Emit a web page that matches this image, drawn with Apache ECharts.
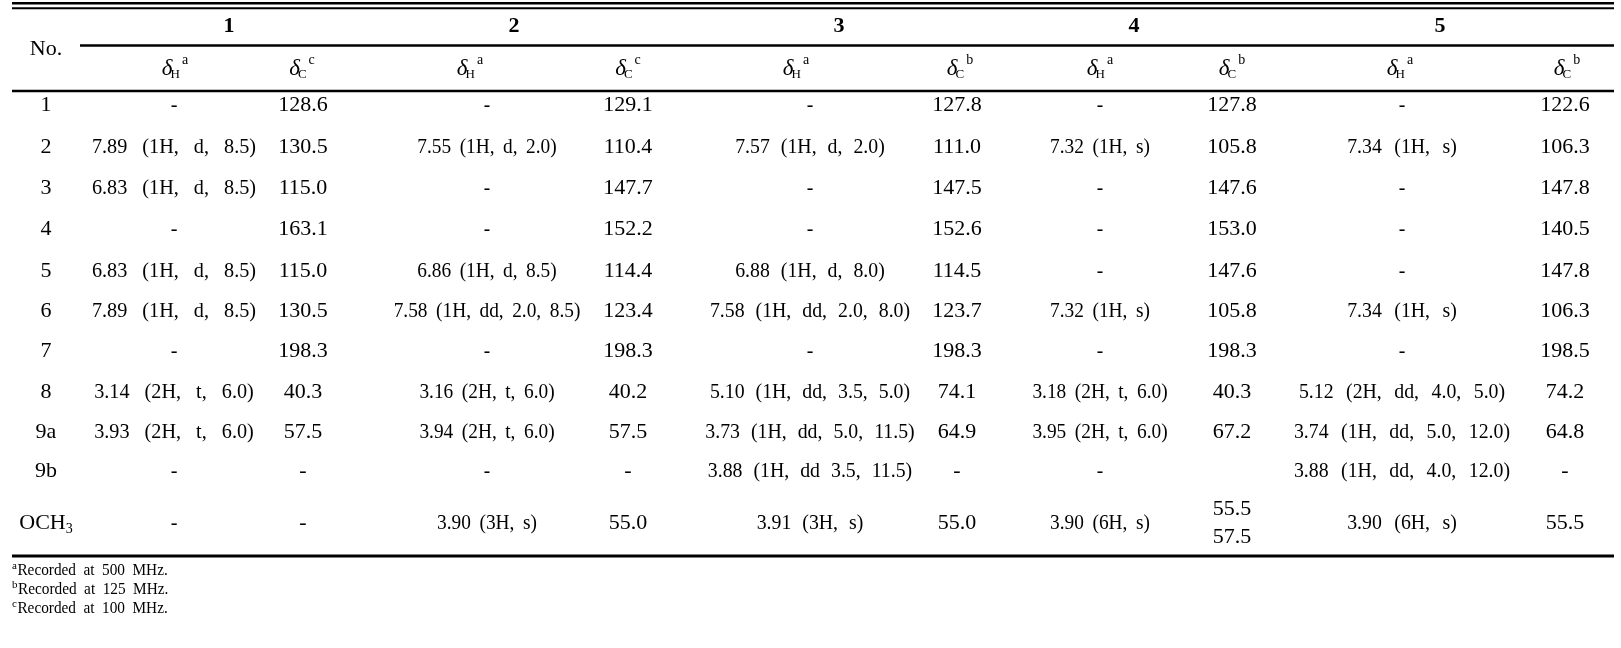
<!DOCTYPE html>
<html>
<head>
<meta charset="utf-8">
<script src="https://cdn.jsdelivr.net/npm/echarts@6/dist/echarts.min.js"></script>
<style>
html,body{margin:0;padding:0;background:#fff;}
#chart{width:1621px;height:648px;}
</style>
</head>
<body>
<div id="chart"></div>
<script>
// ---------------- data ----------------
const compounds = ['1', '2', '3', '4', '5'];
const rowLabels = ['1', '2', '3', '4', '5', '6', '7', '8', '9a', '9b', 'OCH3'];
const colHeads = [['H', 'a'], ['C', 'c'], ['H', 'a'], ['C', 'c'], ['H', 'a'], ['C', 'b'], ['H', 'a'], ['C', 'b'], ['H', 'a'], ['C', 'b']];
const dH1 = ['-', '7.89 (1H, d, 8.5)', '6.83 (1H, d, 8.5)', '-', '6.83 (1H, d, 8.5)', '7.89 (1H, d, 8.5)', '-', '3.14 (2H, t, 6.0)', '3.93 (2H, t, 6.0)', '-', '-'];
const dC1 = ['128.6', '130.5', '115.0', '163.1', '115.0', '130.5', '198.3', '40.3', '57.5', '-', '-'];
const dH2 = ['-', '7.55 (1H, d, 2.0)', '-', '-', '6.86 (1H, d, 8.5)', '7.58 (1H, dd, 2.0, 8.5)', '-', '3.16 (2H, t, 6.0)', '3.94 (2H, t, 6.0)', '-', '3.90 (3H, s)'];
const dC2 = ['129.1', '110.4', '147.7', '152.2', '114.4', '123.4', '198.3', '40.2', '57.5', '-', '55.0'];
const dH3 = ['-', '7.57 (1H, d, 2.0)', '-', '-', '6.88 (1H, d, 8.0)', '7.58 (1H, dd, 2.0, 8.0)', '-', '5.10 (1H, dd, 3.5, 5.0)', '3.73 (1H, dd, 5.0, 11.5)', '3.88 (1H, dd 3.5, 11.5)', '3.91 (3H, s)'];
const dC3 = ['127.8', '111.0', '147.5', '152.6', '114.5', '123.7', '198.3', '74.1', '64.9', '-', '55.0'];
const dH4 = ['-', '7.32 (1H, s)', '-', '-', '-', '7.32 (1H, s)', '-', '3.18 (2H, t, 6.0)', '3.95 (2H, t, 6.0)', '-', '3.90 (6H, s)'];
const dC4 = ['127.8', '105.8', '147.6', '153.0', '147.6', '105.8', '198.3', '40.3', '67.2', '', '55.5\n57.5'];
const dH5 = ['-', '7.34 (1H, s)', '-', '-', '-', '7.34 (1H, s)', '-', '5.12 (2H, dd, 4.0, 5.0)', '3.74 (1H, dd, 5.0, 12.0)', '3.88 (1H, dd, 4.0, 12.0)', '3.90 (6H, s)'];
const dC5 = ['122.6', '106.3', '147.8', '140.5', '147.8', '106.3', '198.5', '74.2', '64.8', '-', '55.5'];
const footnotes = [['a', 'Recorded at 500 MHz.'], ['b', 'Recorded at 125 MHz.'], ['c', 'Recorded at 100 MHz.']];

// ---------------- layout (positions in the page frame) ----------------
const W = 1621, H = 648;
const labelX = 46;
const colX = [174, 303, 487, 628, 810, 957, 1100, 1232, 1402, 1565];
const headX = [175, 302, 470, 628, 796, 960, 1100, 1232, 1400, 1567];
const groupX = [229, 514, 839, 1134, 1440];
const groupY = 26, noY = 49, headY = 69;
const rowY = [105.5, 147, 188, 229, 271, 311, 351, 392, 432, 471, 523];
const noteX = 12, noteY = [571, 590, 609];
const rules = [[12, 3.2, 1614, 2.4], [12, 8.3, 1614, 2], [80, 45.5, 1614, 2.6], [12, 91, 1614, 2.6], [12, 556, 1614, 3]];

const SERIF = '"Liberation Serif", "Times New Roman", serif';
const FS = 22;                                  // main font size
const hScale = [0.92, 0.88, 0.9, 0.88, 0.9];    // horizontal condensing of each deltaH column
const hGap = [15, 8.5, 11, 8.5, 12.5];          // word gap in each deltaH column

const cols = [dH1, dC1, dH2, dC2, dH3, dC3, dH4, dC4, dH5, dC5];

// ---------------- build cells ----------------
const cells = [];
compounds.forEach((c, i) => cells.push({ value: [groupX[i], groupY], kind: 'plain', text: c, bold: true }));
cells.push({ value: [labelX, noY], kind: 'plain', text: 'No.' });
colHeads.forEach((h, i) => cells.push({ value: [headX[i], headY], kind: 'delta', sub: h[0], sup: h[1] }));
rowLabels.forEach((r, j) => {
  if (r === 'OCH3') cells.push({ value: [labelX, rowY[j]], kind: 'och3' });
  else cells.push({ value: [labelX, rowY[j]], kind: 'plain', text: r });
});
cols.forEach((arr, i) => {
  arr.forEach((v, j) => {
    if (v === '') return;
    if (i % 2 === 0) cells.push({ value: [colX[i], rowY[j]], kind: 'words', text: v, sx: hScale[i / 2], gap: hGap[i / 2] });
    else cells.push({ value: [colX[i], rowY[j]], kind: 'plain', text: v });
  });
});
footnotes.forEach((f, k) => cells.push({ value: [noteX, noteY[k]], kind: 'note', sup: f[0], text: f[1] }));

const mctx = document.createElement('canvas').getContext('2d');
function tw(t, font) { mctx.font = font; return mctx.measureText(t).width; }
const fnt = (size, style, weight) => (style || 'normal') + ' ' + (weight || 'normal') + ' ' + size + 'px ' + SERIF;

function txt(t, x, y, font, align, lh, sx) {
  return { type: 'text', x: x, y: y, scaleX: sx || 1, style: { text: t, font: font, fill: '#000', align: align || 'center', verticalAlign: 'middle', lineHeight: lh || undefined } };
}

// lay out words of a string with a given gap and horizontal scale (centred on 0, or starting at 0)
function wordRow(text, font, sx, gap, left) {
  const words = text.split(' ');
  const ws = words.map(w => tw(w, font) * sx);
  const total = ws.reduce((a, b) => a + b, 0) + gap * (words.length - 1);
  let x = left ? 0 : -total / 2;
  return words.map((w, k) => { const e = txt(w, x, 0, font, 'left', null, sx); x += ws[k] + gap; return e; });
}

function renderCell(params, api) {
  const cell = cells[params.dataIndex];
  const p = api.coord([api.value(0), api.value(1)]);
  if (cell.kind === 'plain') {
    const multi = cell.text.indexOf('\n') >= 0;
    return {
      type: 'group', x: p[0], y: p[1],
      children: [txt(cell.text, 0, 0, fnt(FS, 'normal', cell.bold ? 'bold' : 'normal'), 'center', multi ? 28 : undefined)]
    };
  }
  if (cell.kind === 'words') {
    return { type: 'group', x: p[0], y: p[1], children: wordRow(cell.text, fnt(FS), cell.sx, cell.gap) };
  }
  if (cell.kind === 'delta') {
    const fd = fnt(FS + 1, 'italic'), fs = fnt(13), fp = fnt(14);
    const wd = tw('δ', fd), ws = tw(cell.sub, fs), wp = tw(cell.sup, fp);
    const total = wd - 2 + ws + 2 + wp;
    const x0 = -total / 2;
    return {
      type: 'group', x: p[0], y: p[1],
      children: [
        txt('δ', x0, 0, fd, 'left'),
        txt(cell.sub, x0 + wd - 2, 6, fs, 'left'),
        txt(cell.sup, x0 + wd - 2 + ws + 2, -9, fp, 'left')
      ]
    };
  }
  if (cell.kind === 'och3') {
    const fm = fnt(FS), fs = fnt(14);
    const wm = tw('OCH', fm), ws = tw('3', fs);
    const x0 = -(wm + ws) / 2;
    return {
      type: 'group', x: p[0], y: p[1],
      children: [txt('OCH', x0, 0, fm, 'left'), txt('3', x0 + wm, 6, fs, 'left')]
    };
  }
  if (cell.kind === 'note') {
    const fs = fnt(11), fm = fnt(17);
    const ws = tw(cell.sup, fs);
    const inner = { type: 'group', x: ws + 0.5, y: 0, children: wordRow(cell.text, fm, 0.9, 7.5, true) };
    return {
      type: 'group', x: p[0], y: p[1],
      children: [txt(cell.sup, 0, -5, fs, 'left'), inner]
    };
  }
}

function renderRule(params, api) {
  const a = api.coord([api.value(0), api.value(1)]);
  const b = api.coord([api.value(2), api.value(1)]);
  return { type: 'line', shape: { x1: a[0], y1: a[1], x2: b[0], y2: b[1] }, style: { stroke: '#000', lineWidth: api.value(3) } };
}

const chart = echarts.init(document.getElementById('chart'), null, { renderer: 'canvas' });
chart.setOption({
  animation: false,
  backgroundColor: '#fff',
  grid: { left: 0, right: 0, top: 0, bottom: 0 },
  xAxis: { type: 'value', min: 0, max: W, show: false },
  yAxis: { type: 'value', min: 0, max: H, inverse: true, show: false },
  series: [
    { type: 'custom', name: 'rules', renderItem: renderRule, data: rules, clip: false, silent: true },
    { type: 'custom', name: 'cells', renderItem: renderCell, data: cells, clip: false, silent: true }
  ]
});
</script>
</body>
</html>
